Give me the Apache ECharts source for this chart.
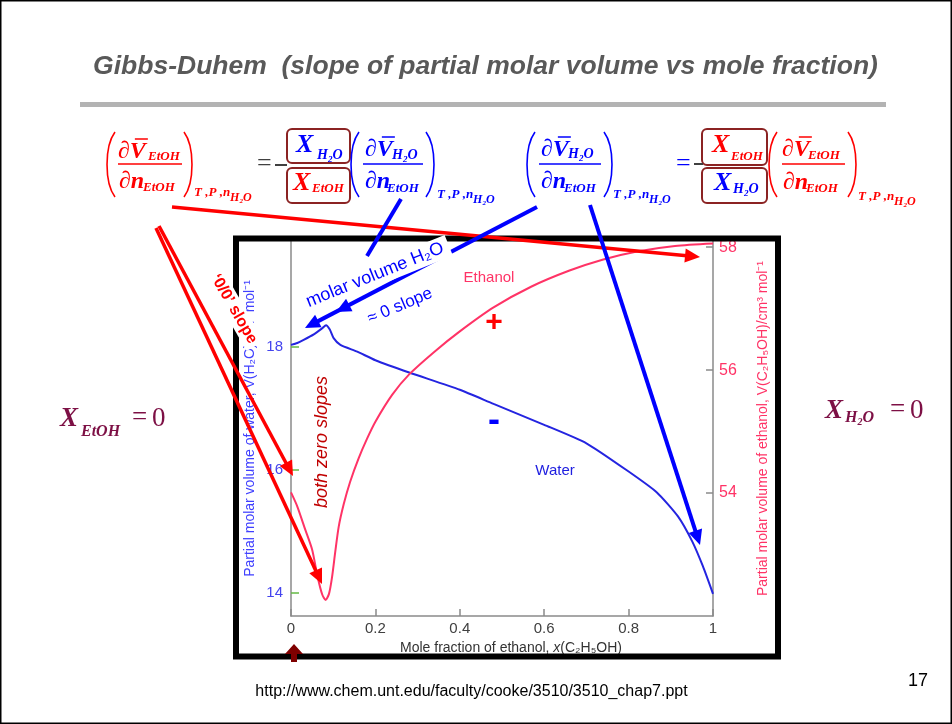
<!DOCTYPE html>
<html><head><meta charset="utf-8">
<script src="https://cdn.jsdelivr.net/npm/echarts@6/dist/echarts.min.js"></script>
<style>html,body{margin:0;padding:0;background:#fff}#c{width:952px;height:724px}</style>
</head><body><div id="c"></div>
<script>
// ---- data ----
const titleText = 'Gibbs-Duhem  (slope of partial molar volume vs mole fraction)';
const footerText = 'http://www.chem.unt.edu/faculty/cooke/3510/3510_chap7.ppt';
const pageNumber = '17';
const xTicks = [0, 0.2, 0.4, 0.6, 0.8, 1];
const waterTicks = [14, 16, 18];
const ethanolTicks = [54, 56, 58];
const waterX = [0, 0.015, 0.03, 0.054, 0.074, 0.083, 0.092, 0.101, 0.117, 0.157, 0.2, 0.28, 0.4, 0.48, 0.6, 0.7, 0.8, 0.867, 0.917, 0.951, 0.976, 1.0];
const waterV = [18.03, 18.06, 18.11, 18.20, 18.30, 18.35, 18.28, 18.14, 18.03, 17.92, 17.78, 17.58, 17.30, 17.07, 16.73, 16.43, 15.97, 15.63, 15.24, 14.83, 14.43, 13.98];
const ethanolX = [0, 0.015, 0.034, 0.05, 0.063, 0.074, 0.082, 0.09, 0.097, 0.105, 0.113, 0.125, 0.14, 0.16, 0.18, 0.2, 0.24, 0.28, 0.34, 0.4, 0.48, 0.57, 0.66, 0.74, 0.82, 0.91, 1.0];
const ethanolV = [54.01, 53.78, 53.40, 53.08, 52.64, 52.35, 52.26, 52.36, 52.62, 53.05, 53.45, 53.82, 54.18, 54.56, 54.88, 55.16, 55.6, 55.93, 56.3, 56.63, 57.02, 57.36, 57.62, 57.80, 57.93, 58.02, 58.06];

// ---- helpers ----
const RED = '#ff0000', BLUE = '#0000ff', BOX = '#8b2323', GRAY = '#404040', MAROON = '#7d1045';
const BI = s => 'italic bold ' + s + 'px "Liberation Serif"';
const RS = s => s + 'px "Liberation Serif"';
const SANS = (s, w) => (w || '') + ' ' + s + 'px "Liberation Sans"';
const mctx = document.createElement('canvas').getContext('2d');
function measure(t, f) { mctx.font = f; return mctx.measureText(t).width; }
const G = [];
function txt(x, y, t, font, fill, o) {
  o = o || {};
  G.push({type: 'text', x: x, y: y, z: o.z || 40, rotation: o.rot || 0,
    style: Object.assign({text: t, font: font, fill: fill, align: o.align || 'left', verticalAlign: 'middle'}, o.style || {})});
}
function seq(x, y, parts, fill) {
  let cx = x;
  parts.forEach(p => { txt(cx, y + (p.dy || 0), p.t, p.f, fill); cx += measure(p.t, p.f); });
}
function h2o(x, y, s, fill) {
  seq(x, y, [{t: 'H', f: BI(s)}, {t: '2', f: BI(Math.round(s * 0.62)), dy: s * 0.3}, {t: 'O', f: BI(s)}], fill);
}
function line(x1, y1, x2, y2, stroke, lw, z) {
  G.push({type: 'line', z: z || 40, shape: {x1: x1, y1: y1, x2: x2, y2: y2}, style: {stroke: stroke, lineWidth: lw}});
}
function paren(xe, yt, yb, b, stroke) {
  G.push({type: 'bezierCurve', z: 40, shape: {x1: xe, y1: yt, x2: xe, y2: yb,
    cpx1: xe + b * 1.33, cpy1: yt + (yb - yt) * 0.22, cpx2: xe + b * 1.33, cpy2: yb - (yb - yt) * 0.22},
    style: {stroke: stroke, lineWidth: 1.6, fill: 'none'}});
}
function box(x, y, w, h) {
  G.push({type: 'rect', z: 39, shape: {x: x, y: y, width: w, height: h, r: 5}, style: {stroke: BOX, lineWidth: 2, fill: 'none'}});
}
function dV(x, y, color) {
  txt(x, y, '\u2202V', BI(24), color);
  const wd = measure('\u2202', BI(24)), wv = measure('V', BI(24));
  line(x + wd + 5, y - 13, x + wd + wv + 2, y - 13, color, 1.5);
}
function tpn(x, y, color) {
  txt(x, y, 'T ,P ,n', BI(13), color);
  h2o(x + measure('T ,P ,n', BI(13)), y + 5, 12, color);
}
function arrow(x1, y1, x2, y2, color, lw, extra) {
  const dx = x2 - x1, dy = y2 - y1, L = Math.hypot(dx, dy), ux = dx / L, uy = dy / L;
  const hl = 15, hw = 7;
  line(x1, y1, x2 - ux * hl * 0.7, y2 - uy * hl * 0.7, color, lw, 20);
  function head(tx, ty) {
    const bx = tx - ux * hl, by = ty - uy * hl;
    G.push({type: 'polygon', z: 21, shape: {points: [[tx, ty], [bx - uy * hw, by + ux * hw], [bx + uy * hw, by - ux * hw]]}, style: {fill: color}});
  }
  head(x2, y2);
  (extra || []).forEach(p => head(p[0], p[1]));
}

// ---- slide frame, title, rule, footer ----
G.push({type: 'rect', z: 1, shape: {x: 0.75, y: 0.75, width: 950.5, height: 722.5}, style: {stroke: '#000', lineWidth: 1.5, fill: 'none'}});
txt(485.5, 67, titleText, 'italic bold 26.5px "Liberation Sans"', '#595959', {align: 'center'});
G.push({type: 'rect', z: 1, shape: {x: 80, y: 102, width: 806, height: 5}, style: {fill: '#b3b3b3'}});
txt(471.5, 692, footerText, SANS(16), '#000', {align: 'center'});
txt(918, 681, pageNumber, SANS(18), '#000', {align: 'center'});

// chart box border
G.push({type: 'rect', z: 10, shape: {x: 236, y: 238.5, width: 542, height: 418}, style: {stroke: '#000', lineWidth: 6, fill: 'none'}});

// ---- formula 1 ----
paren(115, 132, 197, -8, RED); paren(184, 132, 197, 8, RED);
dV(118, 152, RED); txt(148, 157, 'EtOH', BI(13), RED);
line(118, 164, 182, 164, RED, 1.3);
txt(119, 182, '\u2202n', BI(24), RED); txt(143, 188, 'EtOH', BI(13), RED);
tpn(194, 193, RED);
txt(257, 164, '=', RS(26), GRAY); line(275, 165, 287, 165, GRAY, 2);
box(287, 129, 63, 34); txt(296, 145, 'X', BI(26), BLUE); h2o(317, 155, 14, BLUE);
box(287, 168, 63, 35); txt(293, 183, 'X', BI(26), RED); txt(312, 189, 'EtOH', BI(13), RED);
paren(359, 132, 197, -8, BLUE); paren(426, 132, 197, 8, BLUE);
dV(365, 150, BLUE); h2o(392, 155, 14, BLUE);
line(363, 164, 423, 164, BLUE, 1.3);
txt(365, 182, '\u2202n', BI(24), BLUE); txt(387, 189, 'EtOH', BI(13), BLUE);
tpn(437, 195, BLUE);

// ---- formula 2 ----
paren(535, 132, 197, -8, BLUE); paren(604, 132, 197, 8, BLUE);
dV(541, 150, BLUE); h2o(568, 154, 14, BLUE);
line(539, 164, 601, 164, BLUE, 1.3);
txt(541, 182, '\u2202n', BI(24), BLUE); txt(564, 189, 'EtOH', BI(13), BLUE);
tpn(613, 195, BLUE);
txt(676, 164, '=', RS(26), BLUE); line(694, 164, 703, 164, GRAY, 2);
box(702, 129, 65, 36); txt(712, 145, 'X', BI(26), RED); txt(731, 157, 'EtOH', BI(13), RED);
box(702, 168, 65, 35); txt(714, 183, 'X', BI(26), BLUE); h2o(733, 189, 14, BLUE);
paren(777, 132, 197, -8, RED); paren(848, 132, 197, 8, RED);
dV(782, 150, RED); txt(808, 156, 'EtOH', BI(13), RED);
line(782, 164, 845, 164, RED, 1.3);
txt(783, 183, '\u2202n', BI(24), RED); txt(806, 189, 'EtOH', BI(13), RED);
tpn(858, 197, RED);

// ---- X = 0 side notes ----
txt(60, 419, 'X', BI(27), MAROON); txt(81, 432, 'EtOH', BI(16), MAROON);
txt(132, 418, '=', RS(27), MAROON); txt(152, 419, '0', RS(27), MAROON);
txt(825, 411, 'X', BI(27), MAROON); h2o(845, 418, 16, MAROON);
txt(890, 410, '=', RS(27), MAROON); txt(910, 411, '0', RS(27), MAROON);

// ---- arrows ----
arrow(172, 207, 700, 257, RED, 3.5);
arrow(159, 226, 293, 476, RED, 3.5);
arrow(156, 228, 322, 584, RED, 3.5);
line(401, 199, 367, 256, BLUE, 4, 20);
arrow(537, 207, 305, 328, BLUE, 4, [[336, 312]]);
arrow(590, 205, 700, 545, BLUE, 4);
G.push({type: 'polygon', z: 20, shape: {points: [[294, 644], [303, 654], [297, 654], [297, 662], [291, 662], [291, 654], [285, 654]]}, style: {fill: '#7f0000'}});

// ---- annotation labels ----
txt(234, 309, '\u20180/0\u2019 slope', SANS(16, 'bold'), RED, {align: 'center', z: 30, rot: -Math.PI / 3, style: {backgroundColor: '#fff', padding: [2, 4]}});
txt(375, 275, 'molar volume H\u2082O', SANS(18), BLUE, {align: 'center', z: 30, rot: 22 * Math.PI / 180, style: {backgroundColor: '#fff', padding: [2, 6]}});
txt(400, 306, '\u2248 0 slope', SANS(17), BLUE, {align: 'center', z: 30, rot: 23 * Math.PI / 180});
txt(322, 442, 'both zero slopes', 'italic 18px "Liberation Sans"', '#c00000', {align: 'center', z: 30, rot: Math.PI / 2});
txt(489, 278, 'Ethanol', SANS(15), '#ff3366', {align: 'center', z: 30});
txt(555, 471, 'Water', SANS(15), '#2020e0', {align: 'center', z: 30});
txt(494, 323, '+', SANS(30, 'bold'), RED, {align: 'center', z: 30});
txt(494, 421, '-', SANS(36, 'bold'), BLUE, {align: 'center', z: 30});

// ---- chart ----
const chart = echarts.init(document.getElementById('c'), null, {renderer: 'canvas'});
const axisGray = '#8a8a8a';
chart.setOption({
  animation: false,
  backgroundColor: '#fff',
  grid: {left: 291, right: 239, top: 241, bottom: 108},
  xAxis: {
    type: 'value', min: xTicks[0], max: xTicks[xTicks.length - 1], interval: 0.2,
    axisLine: {lineStyle: {color: axisGray, width: 1.5}},
    axisTick: {inside: true, length: 7, lineStyle: {color: axisGray, width: 1.5}},
    axisLabel: {color: '#404040', fontSize: 15, fontFamily: 'Liberation Sans', margin: 5},
    splitLine: {show: false},
    name: '{n|Mole fraction of ethanol, }{i|x}{n|(C\u2082H\u2085OH)}',
    nameLocation: 'middle', nameGap: 22,
    nameTextStyle: {rich: {n: {fontSize: 14, fontFamily: 'Liberation Sans', color: '#333'}, i: {fontSize: 14, fontStyle: 'italic', fontFamily: 'Liberation Sans', color: '#333'}}, padding: [0, 0, 0, 18]}
  },
  yAxis: [{
    type: 'value', min: 13.62, max: 19.72, position: 'left',
    axisLine: {show: true, lineStyle: {color: axisGray, width: 1.5}},
    axisTick: {show: true, inside: true, length: 8, customValues: waterTicks, lineStyle: {color: '#66bb44', width: 1.5}},
    axisLabel: {customValues: waterTicks, color: '#4444ee', fontSize: 15, fontFamily: 'Liberation Sans', margin: 8},
    splitLine: {show: false},
    name: 'Partial molar volume of water, V(H\u2082O)/cm\u00b3 mol\u207b\u00b9',
    nameLocation: 'middle', nameRotate: 90, nameGap: 34,
    nameTextStyle: {color: '#4040ff', fontSize: 14, fontFamily: 'Liberation Sans'}
  }, {
    type: 'value', min: 52.0, max: 58.1, position: 'right',
    axisLine: {show: true, lineStyle: {color: axisGray, width: 1.5}},
    axisTick: {show: true, inside: true, length: 7, customValues: ethanolTicks, lineStyle: {color: axisGray, width: 1.5}},
    axisLabel: {customValues: ethanolTicks, color: '#ff3366', fontSize: 16, fontFamily: 'Liberation Sans', margin: 6},
    splitLine: {show: false},
    name: 'Partial molar volume of ethanol, V(C\u2082H\u2085OH)/cm\u00b3 mol\u207b\u00b9',
    nameLocation: 'middle', nameRotate: 90, nameGap: 43,
    nameTextStyle: {color: '#ff3366', fontSize: 14, fontFamily: 'Liberation Sans'}
  }],
  series: [{
    name: 'Water', type: 'line', yAxisIndex: 0, smooth: 0.2, showSymbol: false,
    lineStyle: {color: '#2424e0', width: 2}, z: 5,
    data: waterX.map((x, i) => [x, waterV[i]])
  }, {
    name: 'Ethanol', type: 'line', yAxisIndex: 1, smooth: 0.25, showSymbol: false,
    lineStyle: {color: '#ff3366', width: 2}, z: 5,
    data: ethanolX.map((x, i) => [x, ethanolV[i]])
  }],
  graphic: G
});
</script>
</body></html>
